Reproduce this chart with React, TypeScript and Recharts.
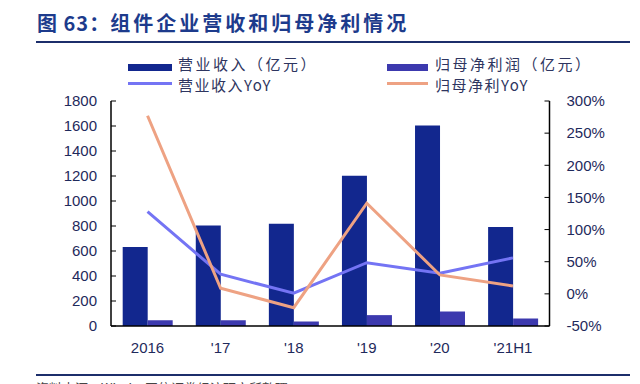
import React from 'react';
import { ComposedChart, Bar, Line, XAxis, YAxis } from 'recharts';

const categories = ['2016', "'17", "'18", "'19", "'20", "'21H1"];
const revenue = [632, 805, 818, 1202, 1605, 792];
const profit = [46, 46, 36, 87, 116, 60];
const revenueYoY = [128, 30.5, 1, 48.5, 32, 56];
const profitYoY = [277, 8.7, -21.5, 141, 29.4, 12.3];
const leftTicks = [0, 200, 400, 600, 800, 1000, 1200, 1400, 1600, 1800];
const rightTicks = [-50, 0, 50, 100, 150, 200, 250, 300];
const boundaryTicks = [1, 2, 3, 4, 5];

const data = categories.map((c, i) => ({
  cat: c,
  revenue: revenue[i],
  profit: profit[i],
  revenueYoY: revenueYoY[i],
  profitYoY: profitYoY[i],
}));

const NUM_FONT = '"Liberation Sans", Arial, sans-serif';
const CJK_FONT = '"Noto Sans CJK SC", "Noto Sans", sans-serif';
const LABEL_COLOR = '#1f2a5c';

const C_REV = '#12278e';
const C_PROFIT = '#3c39ae';
const C_REV_YOY = '#7474f4';
const C_PROFIT_YOY = '#eea283';

const legendText: React.CSSProperties = {
  position: 'absolute',
  fontFamily: CJK_FONT,
  fontSize: 15,
  letterSpacing: 2.5,
  color: '#2e3560',
  lineHeight: '18px',
  whiteSpace: 'nowrap',
};

export default function App() {
  return (
    <div style={{ position: 'absolute', left: 0, top: 0, width: 640, height: 384, overflow: 'hidden', background: '#fff' }}>
      <div
        style={{
          position: 'absolute',
          left: 37,
          top: 8,
          fontFamily: CJK_FONT,
          fontSize: 20,
          fontWeight: 700,
          lineHeight: '29px',
          color: '#1d3b8c',
          whiteSpace: 'nowrap',
        }}
      >
        <span style={{ letterSpacing: 1 }}>图 63：</span>
        <span style={{ letterSpacing: 3 }}>组件企业营收和归母净利情况</span>
      </div>
      <div style={{ position: 'absolute', left: 36, top: 41, width: 594, height: 2, background: '#1c2e6b' }} />

      {/* legend */}
      <div style={{ position: 'absolute', left: 128, top: 64, width: 44, height: 7, background: C_REV }} />
      <div style={{ ...legendText, left: 178, top: 55 }}>营业收入（亿元）</div>
      <div style={{ position: 'absolute', left: 128, top: 82, width: 44, height: 3, background: C_REV_YOY }} />
      <div style={{ ...legendText, left: 178, top: 76, letterSpacing: 1.5 }}>营业收入YoY</div>
      <div style={{ position: 'absolute', left: 387, top: 64, width: 41, height: 7, background: C_PROFIT }} />
      <div style={{ ...legendText, left: 435, top: 55 }}>归母净利润（亿元）</div>
      <div style={{ position: 'absolute', left: 387, top: 82, width: 41, height: 3, background: C_PROFIT_YOY }} />
      <div style={{ ...legendText, left: 435, top: 76, letterSpacing: 1.5 }}>归母净利YoY</div>

      <div style={{ position: 'absolute', left: 0, top: 0 }}>
        <ComposedChart
          width={640}
          height={384}
          data={data}
          margin={{ top: 101, right: 0, bottom: 0, left: 0 }}
          barCategoryGap="16%"
          barGap={0}
        >
          <XAxis
            xAxisId={0}
            type="number"
            domain={[0, 6]}
            ticks={boundaryTicks}
            tick={false}
            tickSize={-5}
            tickLine={{ stroke: '#000', strokeWidth: 1 }}
            axisLine={{ stroke: '#000', strokeWidth: 1.5 }}
            height={1}
            allowDataOverflow
          />
          <XAxis
            xAxisId={1}
            dataKey="cat"
            height={57}
            tickLine={false}
            axisLine={false}
            tickSize={6}
            tickMargin={9}
            interval={0}
            tick={{ fill: LABEL_COLOR, fontSize: 15, fontFamily: NUM_FONT }}
          />
          <YAxis
            yAxisId="left"
            orientation="left"
            width={111}
            domain={[0, 1800]}
            ticks={leftTicks}
            interval={0}
            tickSize={-5}
            tickMargin={19}
            tickLine={{ stroke: '#000', strokeWidth: 1 }}
            axisLine={{ stroke: '#000', strokeWidth: 1.5 }}
            tick={{ fill: LABEL_COLOR, fontSize: 15, fontFamily: NUM_FONT }}
          />
          <YAxis
            yAxisId="right"
            orientation="right"
            width={90.5}
            domain={[-50, 300]}
            ticks={rightTicks}
            interval={0}
            tickSize={-5}
            tickMargin={22}
            tickFormatter={(v: number) => `${v}%`}
            tickLine={{ stroke: '#000', strokeWidth: 1 }}
            axisLine={{ stroke: '#000', strokeWidth: 1.5 }}
            tick={{ fill: LABEL_COLOR, fontSize: 15, fontFamily: NUM_FONT, textAnchor: 'start' }}
          />
          <Bar xAxisId={1} yAxisId="left" dataKey="revenue" fill={C_REV} isAnimationActive={false} />
          <Bar xAxisId={1} yAxisId="left" dataKey="profit" fill={C_PROFIT} isAnimationActive={false} />
          <Line
            xAxisId={1}
            yAxisId="right"
            dataKey="revenueYoY"
            stroke={C_REV_YOY}
            strokeWidth={3}
            dot={false}
            activeDot={false}
            isAnimationActive={false}
          />
          <Line
            xAxisId={1}
            yAxisId="right"
            dataKey="profitYoY"
            stroke={C_PROFIT_YOY}
            strokeWidth={3}
            dot={false}
            activeDot={false}
            isAnimationActive={false}
          />
        </ComposedChart>
      </div>

      <div style={{ position: 'absolute', left: 36, top: 374, width: 594, height: 2, background: '#1c2e6b' }} />
      <div
        style={{
          position: 'absolute',
          left: 36,
          top: 379,
          fontFamily: CJK_FONT,
          fontSize: 13,
          lineHeight: '18px',
          color: '#444',
          whiteSpace: 'nowrap',
        }}
      >
        资料来源：Wind，国信证券经济研究所整理
      </div>
    </div>
  );
}
